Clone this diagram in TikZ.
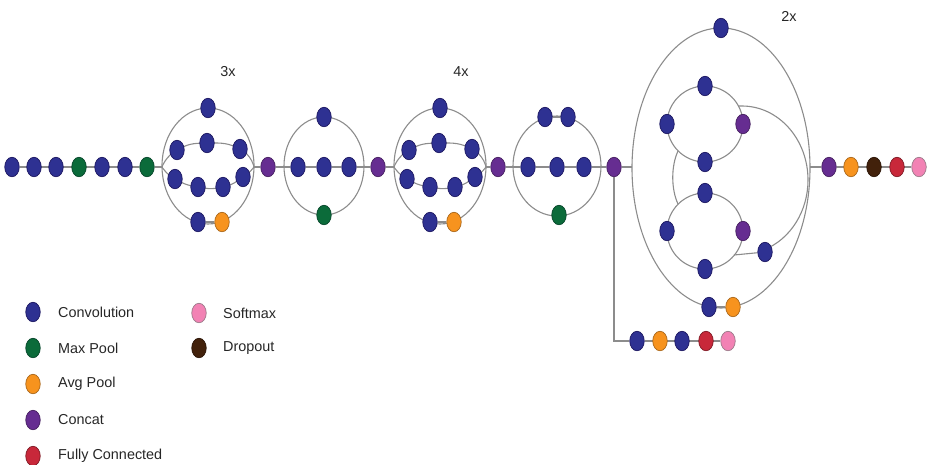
\documentclass[tikz,border=0pt]{standalone}
\usepackage{fontspec}
\setmainfont{Liberation Sans}
\usetikzlibrary{shapes.geometric}
\pgfdeclarelayer{bg}
\pgfsetlayers{bg,main}

\definecolor{convf}{HTML}{2E3192}
\definecolor{convd}{HTML}{1B1660}
\definecolor{poolf}{HTML}{0B6B3A}
\definecolor{poold}{HTML}{06452A}
\definecolor{avgf}{HTML}{F7931E}
\definecolor{avgd}{HTML}{A8661A}
\definecolor{catf}{HTML}{662D91}
\definecolor{catd}{HTML}{45205F}
\definecolor{fcf}{HTML}{C8283A}
\definecolor{fcd}{HTML}{7E1A24}
\definecolor{smf}{HTML}{F282B4}
\definecolor{smd}{HTML}{9A7A88}
\definecolor{dropf}{HTML}{42210B}
\definecolor{dropd}{HTML}{2A1406}
\definecolor{linkc}{HTML}{8C8C8C}

\tikzset{
  blk/.style={ellipse, line width=0.7pt, inner sep=0pt,
              minimum width=14.5pt, minimum height=19.5pt},
  conv/.style={blk, fill=convf, draw=convd},
  maxp/.style={blk, fill=poolf, draw=poold},
  avgp/.style={blk, fill=avgf, draw=avgd},
  cat/.style={blk, fill=catf, draw=catd},
  fc/.style={blk, fill=fcf, draw=fcd},
  smax/.style={blk, fill=smf, draw=smd},
  drop/.style={blk, fill=dropf, draw=dropd},
  link/.style={draw=linkc, line width=1.1pt},
  txt/.style={font=\fontsize{14.4}{17}\selectfont, inner sep=0pt, text=black!85},
  legtxt/.style={txt, anchor=west},
}

% inception block with two curved branches: #1 = name prefix, #2 = x centre
\newcommand\incblock[2]{%
  \begin{scope}[shift={(#2,0)}]
    \node[conv] (#1t)  at (0,108) {};
    \node[conv] (#1a1) at (-31,150) {};
    \node[conv] (#1a2) at (-1,143) {};
    \node[conv] (#1a3) at (32,149) {};
    \node[conv] (#1b1) at (-33,179) {};
    \node[conv] (#1b2) at (-10,187) {};
    \node[conv] (#1b3) at (15,187) {};
    \node[conv] (#1b4) at (35,177) {};
    \node[conv] (#1c1) at (-10,222) {};
    \node[avgp] (#1c2) at (14,222) {};
    \coordinate (#1L) at (-46,167);
    \coordinate (#1R) at (46,167);
    \begin{pgfonlayer}{bg}
      \draw[link] (0,166) ellipse[x radius=46, y radius=58];
      \draw[link] plot[smooth, tension=0.9] coordinates
        {(#1L) (#1a1) (#1a2) (#1a3) (#1R)};
      \draw[link] plot[smooth, tension=0.9] coordinates
        {(#1L) (#1b1) (#1b2) (#1b3) (#1b4) (#1R)};
      \draw[link] (#1c1) -- (#1c2);
    \end{pgfonlayer}
  \end{scope}}

\begin{document}
\begin{tikzpicture}[x=1pt, y=-1pt]
\useasboundingbox (0,0) rectangle (929,464);

% stem
\node[conv] (s1) at (12,167) {};
\node[conv] (s2) at (34,167) {};
\node[conv] (s3) at (56,167) {};
\node[maxp] (s4) at (79,167) {};
\node[conv] (s5) at (102,167) {};
\node[conv] (s6) at (125,167) {};
\node[maxp] (s7) at (147,167) {};

% first repeated block
\incblock{m1}{208}
\node[txt] (lab3) at (228,72) {3x};
\node[cat] (c1) at (268,167) {};

% reduction block
\node[conv] (m2t) at (324,117) {};
\node[conv] (m2a) at (298,167) {};
\node[conv] (m2b) at (324,167) {};
\node[conv] (m2c) at (349,167) {};
\node[maxp] (m2p) at (324,215) {};
\coordinate (m2L) at (284,167);
\coordinate (m2R) at (364,167);
\node[cat] (c2) at (378,167) {};

% second repeated block
\incblock{m3}{440}
\node[txt] (lab4) at (461,72) {4x};
\node[cat] (c3) at (498,167) {};

% second reduction block
\node[conv] (m4t1) at (545,117) {};
\node[conv] (m4t2) at (568,117) {};
\node[conv] (m4a) at (528,167) {};
\node[conv] (m4b) at (557,167) {};
\node[conv] (m4c) at (584,167) {};
\node[maxp] (m4p) at (559,215) {};
\coordinate (m4L) at (513,167);
\coordinate (m4R) at (601,167);
\node[cat] (c4) at (614,167) {};

% last repeated block
\node[txt] (lab2) at (789,16) {2x};
\node[conv] (m5t) at (721,28) {};
\node[conv] (u1) at (705,86) {};
\node[conv] (u2) at (667,124) {};
\node[cat]  (u3) at (743,124) {};
\node[conv] (u4) at (705,162) {};
\node[conv] (l1) at (705,193) {};
\node[conv] (l2) at (667,231) {};
\node[cat]  (l3) at (743,231) {};
\node[conv] (l4) at (705,269) {};
\node[conv] (r1) at (765,252) {};
\node[conv] (m5c1) at (709,307) {};
\node[avgp] (m5c2) at (733,307) {};
\coordinate (m5L) at (632,167);
\coordinate (m5R) at (810,167);
\coordinate (ua) at (678,151);
\coordinate (la) at (678,204);
\coordinate (ub) at (738.5,106);
\coordinate (ub2) at (742,106);
\coordinate (lb) at (734,255);
\node[cat] (c5) at (829,167) {};

% classifier
\node[avgp] (t2) at (851,167) {};
\node[drop] (t3) at (874,167) {};
\node[fc]   (t4) at (897,167) {};
\node[smax] (t5) at (919,167) {};

% auxiliary classifier
\node[conv] (x1) at (637,341) {};
\node[avgp] (x2) at (660,341) {};
\node[conv] (x3) at (682,341) {};
\node[fc]   (x4) at (706,341) {};
\node[smax] (x5) at (728,341) {};

% connectors
\begin{pgfonlayer}{bg}
  \draw[link] (s1) -- (s7) -- (m1L);
  \draw[link] (m1R) -- (c1) -- (m2L) -- (m2a) -- (m2b) -- (m2c) -- (m2R) -- (c2) -- (m3L);
  \draw[link] (324,166) ellipse[x radius=40, y radius=49];
  \draw[link] (m3R) -- (c3) -- (m4L) -- (m4a) -- (m4b) -- (m4c) -- (m4R) -- (c4) -- (m5L);
  \draw[link] (557,166) ellipse[x radius=44, y radius=50];
  \draw[link] (m4t1) -- (m4t2);
  \draw[link] (721,168) ellipse[x radius=89, y radius=140];
  \draw[link] (705,124) circle[radius=38];
  \draw[link] (705,231) circle[radius=38];
  \draw[link] (ua) .. controls (671,166) and (671,189) .. (la);
  \draw[link] (ub) -- (ub2) arc[start angle=-90, end angle=70, x radius=66, y radius=74];
  \draw[link] (r1) -- (lb);
  \draw[link] (m5c1) -- (m5c2);
  \draw[link] (m5R) -- (c5) -- (t5);
  \draw[link] (c4) |- (x1);
  \draw[link] (x1) -- (x5);
\end{pgfonlayer}

% legend
\node[conv] (k1) at (33,312) {};
\node[legtxt] (k1t) at (58,312) {Convolution};
\node[maxp] (k2) at (33,348) {};
\node[legtxt] (k2t) at (58,348) {Max Pool};
\node[avgp] (k3) at (33,384) {};
\node[legtxt] (k3t) at (58,384) {Avg Pool};
\node[cat] (k4) at (33,420) {};
\node[legtxt] (k4t) at (58,420) {Concat};
\node[fc] (k5) at (33,456) {};
\node[legtxt] (k5t) at (58,456) {Fully Connected};
\node[smax] (k6) at (199,313) {};
\node[legtxt] (k6t) at (223,313) {Softmax};
\node[drop] (k7) at (199,348) {};
\node[legtxt] (k7t) at (223,348) {Dropout};
\end{tikzpicture}
\end{document}
